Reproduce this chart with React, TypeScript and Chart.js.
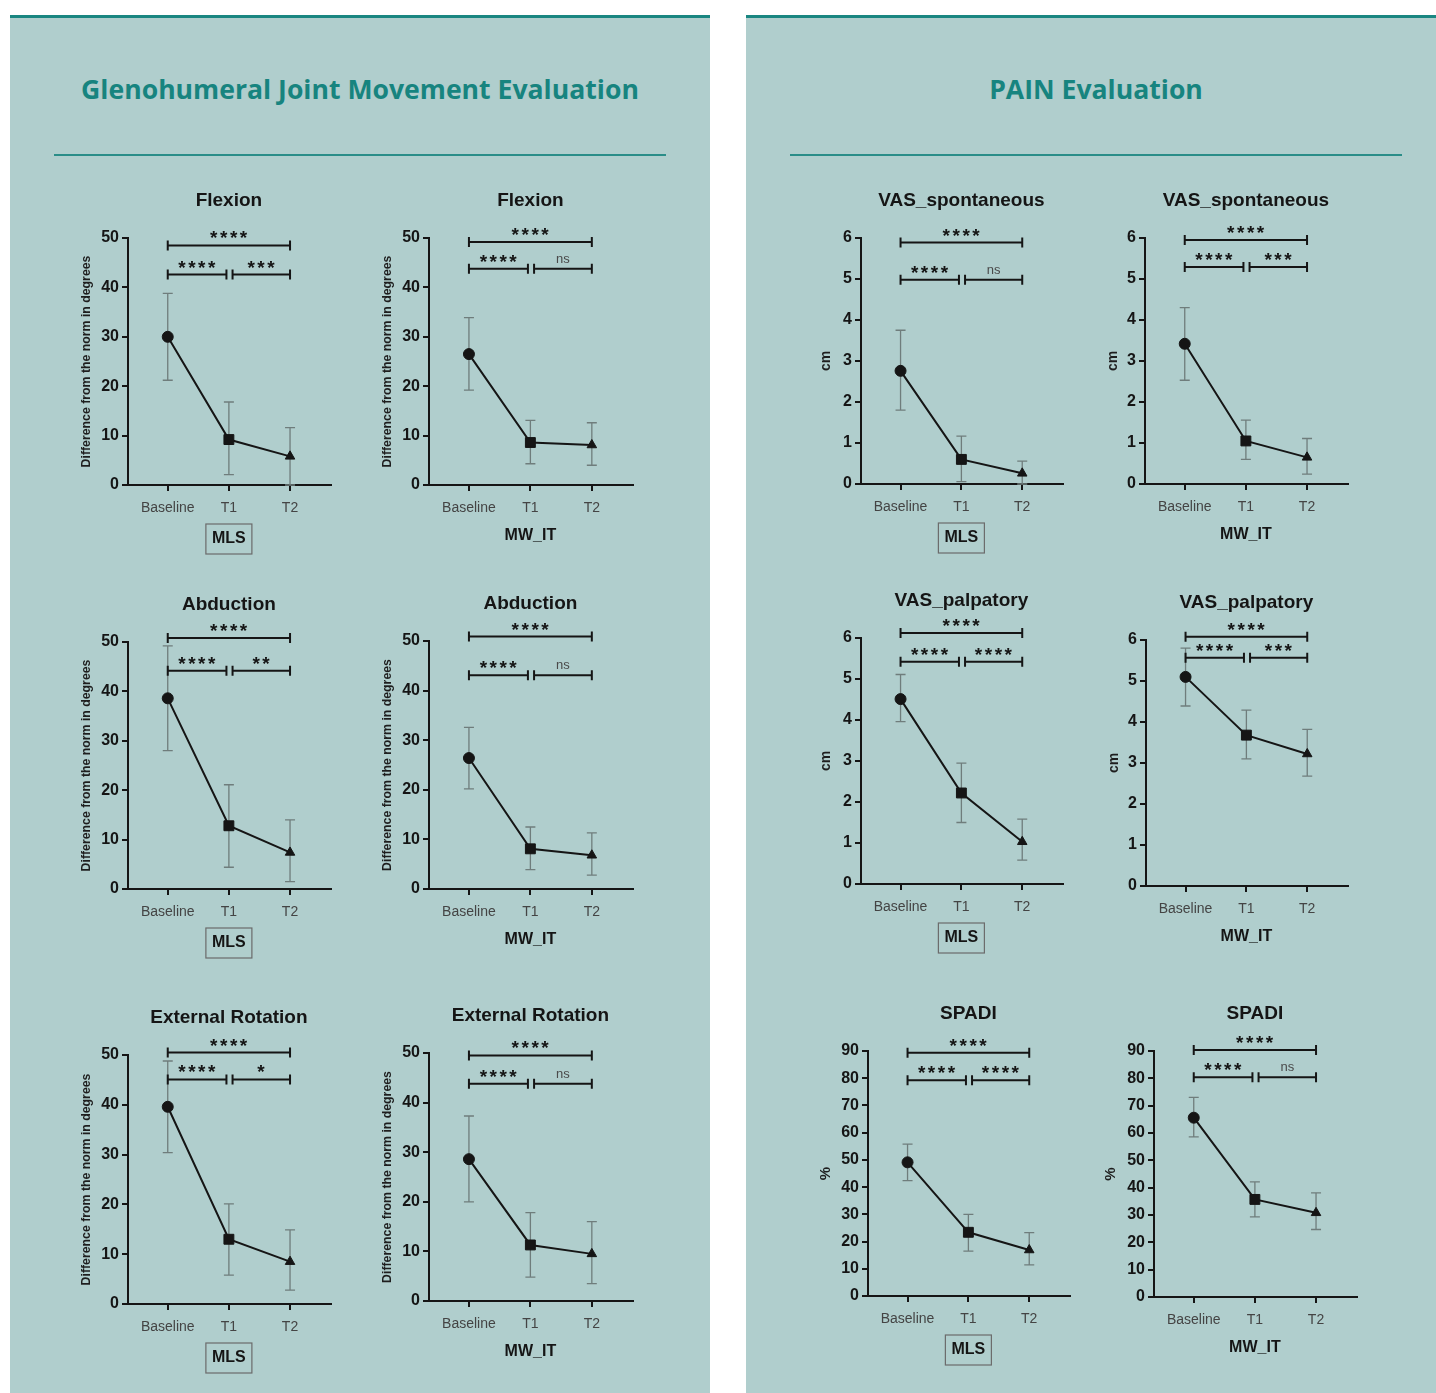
import React, { useEffect, useRef } from 'react';
import { Chart, registerables } from 'chart.js';
Chart.register(...registerables);

// ---------- DATA ----------
const categories = ['Baseline', 'T1', 'T2'];

// Glenohumeral (degrees)
const mlsFlexionMean = [30.0, 9.2, 5.8];
const mlsFlexionLow = [21.2, 2.1, 0];
const mlsFlexionHigh = [38.8, 16.8, 11.6];
const mlsFlexionSig = ['****', '****', '***'];
const mlsFlexionLevels = [48.5, 42.6];

const mwFlexionMean = [26.5, 8.6, 8.1];
const mwFlexionLow = [19.2, 4.3, 4.0];
const mwFlexionHigh = [33.9, 13.1, 12.6];
const mwFlexionSig = ['****', '****', 'ns'];
const mwFlexionLevels = [49.2, 43.8];

const mlsAbductionMean = [38.6, 12.8, 7.4];
const mlsAbductionLow = [28.0, 4.4, 1.5];
const mlsAbductionHigh = [49.2, 21.1, 14.0];
const mlsAbductionSig = ['****', '****', '**'];
const mlsAbductionLevels = [50.8, 44.2];

const mwAbductionMean = [26.4, 8.1, 6.8];
const mwAbductionLow = [20.2, 3.9, 2.8];
const mwAbductionHigh = [32.6, 12.5, 11.3];
const mwAbductionSig = ['****', '****', 'ns'];
const mwAbductionLevels = [50.9, 43.1];

const mlsRotationMean = [39.6, 13.0, 8.5];
const mlsRotationLow = [30.4, 5.8, 2.8];
const mlsRotationHigh = [48.8, 20.1, 14.9];
const mlsRotationSig = ['****', '****', '*'];
const mlsRotationLevels = [50.5, 45.1];

const mwRotationMean = [28.6, 11.3, 9.5];
const mwRotationLow = [20.0, 4.8, 3.5];
const mwRotationHigh = [37.3, 17.8, 16.0];
const mwRotationSig = ['****', '****', 'ns'];
const mwRotationLevels = [49.5, 43.8];

// Pain (cm / %)
const mlsVasSpMean = [2.76, 0.6, 0.26];
const mlsVasSpLow = [1.8, 0.06, 0];
const mlsVasSpHigh = [3.75, 1.17, 0.56];
const mlsVasSpSig = ['****', '****', 'ns'];
const mlsVasSpLevels = [5.89, 4.98];

const mwVasSpMean = [3.42, 1.05, 0.65];
const mwVasSpLow = [2.53, 0.6, 0.24];
const mwVasSpHigh = [4.3, 1.56, 1.11];
const mwVasSpSig = ['****', '****', '***'];
const mwVasSpLevels = [5.95, 5.29];

const mlsVasPalpMean = [4.51, 2.22, 1.03];
const mlsVasPalpLow = [3.96, 1.5, 0.58];
const mlsVasPalpHigh = [5.11, 2.95, 1.58];
const mlsVasPalpSig = ['****', '****', '****'];
const mlsVasPalpLevels = [6.12, 5.42];

const mwVasPalpMean = [5.1, 3.68, 3.22];
const mwVasPalpLow = [4.39, 3.1, 2.68];
const mwVasPalpHigh = [5.8, 4.29, 3.82];
const mwVasPalpSig = ['****', '****', '***'];
const mwVasPalpLevels = [6.08, 5.57];

const mlsSpadiMean = [49.1, 23.4, 16.9];
const mlsSpadiLow = [42.4, 16.5, 11.4];
const mlsSpadiHigh = [55.8, 30.0, 23.3];
const mlsSpadiSig = ['****', '****', '****'];
const mlsSpadiLevels = [89.4, 79.3];

const mwSpadiMean = [65.6, 35.7, 30.8];
const mwSpadiLow = [58.6, 29.3, 24.7];
const mwSpadiHigh = [73.0, 42.1, 38.1];
const mwSpadiSig = ['****', '****', 'ns'];
const mwSpadiLevels = [90.4, 80.4];

const degTitle = 'Difference from the norm in degrees';

// ---------- LAYOUT ----------
type Spec = {
  title: string; group: string; boxed: boolean; yTitle: string; yTitleSize: number; yTitleOff: number;
  yMax: number; step: number;
  mean: number[]; low: number[]; high: number[]; sig: string[]; levels: number[];
  axisX: number; axisEnd: number; yTop: number; y0: number;
};

const specs: Spec[] = [
  { title: 'Flexion', group: 'MLS', boxed: true, yTitle: degTitle, yTitleSize: 12.3, yTitleOff: 41, yMax: 50, step: 10,
    mean: mlsFlexionMean, low: mlsFlexionLow, high: mlsFlexionHigh, sig: mlsFlexionSig, levels: mlsFlexionLevels,
    axisX: 128, axisEnd: 331, yTop: 237.5, y0: 485 },
  { title: 'Flexion', group: 'MW_IT', boxed: false, yTitle: degTitle, yTitleSize: 12.3, yTitleOff: 41, yMax: 50, step: 10,
    mean: mwFlexionMean, low: mwFlexionLow, high: mwFlexionHigh, sig: mwFlexionSig, levels: mwFlexionLevels,
    axisX: 429, axisEnd: 633, yTop: 237.5, y0: 485 },
  { title: 'Abduction', group: 'MLS', boxed: true, yTitle: degTitle, yTitleSize: 12.3, yTitleOff: 41, yMax: 50, step: 10,
    mean: mlsAbductionMean, low: mlsAbductionLow, high: mlsAbductionHigh, sig: mlsAbductionSig, levels: mlsAbductionLevels,
    axisX: 128, axisEnd: 331, yTop: 641.5, y0: 889 },
  { title: 'Abduction', group: 'MW_IT', boxed: false, yTitle: degTitle, yTitleSize: 12.3, yTitleOff: 41, yMax: 50, step: 10,
    mean: mwAbductionMean, low: mwAbductionLow, high: mwAbductionHigh, sig: mwAbductionSig, levels: mwAbductionLevels,
    axisX: 429, axisEnd: 633, yTop: 641, y0: 889 },
  { title: 'External Rotation', group: 'MLS', boxed: true, yTitle: degTitle, yTitleSize: 12.3, yTitleOff: 41, yMax: 50, step: 10,
    mean: mlsRotationMean, low: mlsRotationLow, high: mlsRotationHigh, sig: mlsRotationSig, levels: mlsRotationLevels,
    axisX: 128, axisEnd: 331, yTop: 1055, y0: 1304 },
  { title: 'External Rotation', group: 'MW_IT', boxed: false, yTitle: degTitle, yTitleSize: 12.3, yTitleOff: 41, yMax: 50, step: 10,
    mean: mwRotationMean, low: mwRotationLow, high: mwRotationHigh, sig: mwRotationSig, levels: mwRotationLevels,
    axisX: 429, axisEnd: 633, yTop: 1053, y0: 1301 },
  { title: 'VAS_spontaneous', group: 'MLS', boxed: true, yTitle: 'cm', yTitleSize: 14, yTitleOff: 35, yMax: 6, step: 1,
    mean: mlsVasSpMean, low: mlsVasSpLow, high: mlsVasSpHigh, sig: mlsVasSpSig, levels: mlsVasSpLevels,
    axisX: 861, axisEnd: 1063, yTop: 237.5, y0: 484 },
  { title: 'VAS_spontaneous', group: 'MW_IT', boxed: false, yTitle: 'cm', yTitleSize: 14, yTitleOff: 32, yMax: 6, step: 1,
    mean: mwVasSpMean, low: mwVasSpLow, high: mwVasSpHigh, sig: mwVasSpSig, levels: mwVasSpLevels,
    axisX: 1145, axisEnd: 1348, yTop: 237.5, y0: 484 },
  { title: 'VAS_palpatory', group: 'MLS', boxed: true, yTitle: 'cm', yTitleSize: 14, yTitleOff: 35, yMax: 6, step: 1,
    mean: mlsVasPalpMean, low: mlsVasPalpLow, high: mlsVasPalpHigh, sig: mlsVasPalpSig, levels: mlsVasPalpLevels,
    axisX: 861, axisEnd: 1063, yTop: 638, y0: 884 },
  { title: 'VAS_palpatory', group: 'MW_IT', boxed: false, yTitle: 'cm', yTitleSize: 14, yTitleOff: 32, yMax: 6, step: 1,
    mean: mwVasPalpMean, low: mwVasPalpLow, high: mwVasPalpHigh, sig: mwVasPalpSig, levels: mwVasPalpLevels,
    axisX: 1146, axisEnd: 1348, yTop: 640, y0: 886 },
  { title: 'SPADI', group: 'MLS', boxed: true, yTitle: '%', yTitleSize: 15, yTitleOff: 42, yMax: 90, step: 10,
    mean: mlsSpadiMean, low: mlsSpadiLow, high: mlsSpadiHigh, sig: mlsSpadiSig, levels: mlsSpadiLevels,
    axisX: 868, axisEnd: 1070, yTop: 1051, y0: 1296 },
  { title: 'SPADI', group: 'MW_IT', boxed: false, yTitle: '%', yTitleSize: 15, yTitleOff: 43, yMax: 90, step: 10,
    mean: mwSpadiMean, low: mwSpadiLow, high: mwSpadiHigh, sig: mwSpadiSig, levels: mwSpadiLevels,
    axisX: 1154, axisEnd: 1357, yTop: 1051, y0: 1297 },
];

const FONT = '"Liberation Sans", Arial, Helvetica, sans-serif';
const INK = '#151515';
const PADL = 75, PADT = 62, PADR = 25, PADB = 78;

function makeOverlay(s: Spec) {
  return {
    id: 'overlay',
    beforeDatasetsDraw(chart: any) {
      const { ctx } = chart;
      const xs = chart.scales.x, ys = chart.scales.y;
      ctx.save();
      ctx.strokeStyle = '#6f7d7c';
      ctx.lineWidth = 1.3;
      s.mean.forEach((_, i) => {
        const x = xs.getPixelForValue(i);
        const y1 = ys.getPixelForValue(s.low[i]);
        const y2 = ys.getPixelForValue(s.high[i]);
        ctx.beginPath();
        ctx.moveTo(x, y1); ctx.lineTo(x, y2);
        ctx.moveTo(x - 5, y1); ctx.lineTo(x + 5, y1);
        ctx.moveTo(x - 5, y2); ctx.lineTo(x + 5, y2);
        ctx.stroke();
      });
      ctx.restore();
    },
    afterDatasetsDraw(chart: any) {
      const { ctx } = chart;
      const xs = chart.scales.x, ys = chart.scales.y;
      const brackets: [number, number, number, string][] = [
        [0, 2, s.levels[0], s.sig[0]],
        [0, 0.96, s.levels[1], s.sig[1]],
        [1.06, 2, s.levels[1], s.sig[2]],
      ];
      ctx.save();
      ctx.strokeStyle = INK;
      ctx.lineWidth = 2;
      brackets.forEach(([a, b, lv, label]) => {
        const x1 = xs.getPixelForValue(a), x2 = xs.getPixelForValue(b);
        const y = ys.getPixelForValue(lv);
        ctx.beginPath();
        ctx.moveTo(x1, y); ctx.lineTo(x2, y);
        ctx.moveTo(x1, y - 5); ctx.lineTo(x1, y + 5);
        ctx.moveTo(x2, y - 5); ctx.lineTo(x2, y + 5);
        ctx.stroke();
        ctx.textAlign = 'center';
        ctx.textBaseline = 'alphabetic';
        if (label === 'ns') {
          ctx.font = `13px ${FONT}`;
          ctx.fillStyle = '#4a4a4a';
          (ctx as any).letterSpacing = '0px';
          ctx.fillText(label, (x1 + x2) / 2, y - 6);
        } else {
          ctx.font = `bold 19px ${FONT}`;
          ctx.fillStyle = INK;
          (ctx as any).letterSpacing = '2.5px';
          ctx.fillText(label, (x1 + x2) / 2 + 1, y - 1);
          (ctx as any).letterSpacing = '0px';
        }
      });
      ctx.restore();
    },
    afterDraw(chart: any) {
      const { ctx, chartArea } = chart;
      const xs = chart.scales.x;
      const cx = xs.getPixelForValue(1);
      ctx.save();
      ctx.fillStyle = INK;
      ctx.textAlign = 'center';
      ctx.textBaseline = 'middle';
      ctx.font = `bold 19px ${FONT}`;
      ctx.fillText(s.title, cx, chartArea.top - 37);
      ctx.font = `bold 16px ${FONT}`;
      const gy = chartArea.bottom + (s.boxed ? 54 : 51);
      ctx.fillText(s.group, cx, gy);
      if (s.boxed) {
        ctx.strokeStyle = '#6b6b6b';
        ctx.lineWidth = 1.2;
        ctx.strokeRect(cx - 23, gy - 15, 46, 30);
      }
      ctx.translate(chartArea.left - s.yTitleOff, (chartArea.top + chartArea.bottom) / 2);
      ctx.rotate(-Math.PI / 2);
      ctx.font = `bold ${s.yTitleSize}px ${FONT}`;
      ctx.fillStyle = '#1e1e1e';
      ctx.fillText(s.yTitle, 0, 0);
      ctx.restore();
    },
  };
}

function SubChart({ s }: { s: Spec }) {
  const ref = useRef<HTMLCanvasElement>(null);
  const w = s.axisEnd - s.axisX + PADL + PADR;
  const h = s.y0 - s.yTop + PADT + PADB;
  useEffect(() => {
    const axisGrid = { drawOnChartArea: false, drawTicks: true, tickLength: 6, color: INK, lineWidth: 2 };
    const axisBorder = { display: true, color: INK, width: 2 };
    const chart = new Chart(ref.current as HTMLCanvasElement, {
      type: 'line',
      data: {
        datasets: [{
          data: s.mean.map((y, i) => ({ x: i, y })),
          borderColor: INK,
          backgroundColor: INK,
          borderWidth: 2,
          pointStyle: ['circle', 'rect', 'triangle'] as any,
          pointRadius: [5.5, 7, 5.5],
          pointBorderWidth: 1,
          tension: 0,
        }],
      },
      options: {
        responsive: false,
        animation: false,
        devicePixelRatio: 1,
        layout: { padding: { top: PADT, right: PADR, left: 0, bottom: 0 } },
        plugins: { legend: { display: false }, tooltip: { enabled: false }, title: { display: false } },
        scales: {
          x: {
            type: 'linear', min: -0.65, max: 2.67,
            afterBuildTicks: (sc: any) => { sc.ticks = [0, 1, 2].map((v) => ({ value: v })); },
            afterFit: (sc: any) => { sc.height = PADB; },
            ticks: {
              callback: (v: any) => categories[v as number] ?? '',
              font: { family: FONT, size: 14 }, color: '#444', padding: 9, maxRotation: 0, autoSkip: false,
            },
            grid: axisGrid, border: axisBorder,
          } as any,
          y: {
            min: 0, max: s.yMax,
            afterFit: (sc: any) => { sc.width = PADL; },
            ticks: { stepSize: s.step, font: { family: FONT, size: 16, weight: 'bold' }, color: INK, padding: 3 },
            grid: axisGrid, border: axisBorder,
          } as any,
        },
      },
      plugins: [makeOverlay(s)],
    });
    return () => chart.destroy();
  }, []);
  return (
    <canvas
      ref={ref}
      width={w}
      height={h}
      style={{ position: 'absolute', left: s.axisX - PADL, top: s.yTop - PADT, width: w, height: h }}
    />
  );
}

const PANEL_BG = '#b0cecd';
const TEAL = '#1a8681';

export default function App() {
  const titleStyle: React.CSSProperties = {
    position: 'absolute', top: 72, height: 34, lineHeight: '34px', textAlign: 'center',
    fontFamily: '"Open Sans", "Noto Sans", sans-serif', fontWeight: 700, fontSize: 26.6, color: '#17847f',
  };
  return (
    <div style={{ position: 'absolute', left: 0, top: 0, width: 1436, height: 1393, overflow: 'hidden', background: '#fff' }}>
      <div style={{ position: 'absolute', left: 10, top: 15, width: 700, height: 1378, background: PANEL_BG, borderTop: `3px solid ${TEAL}` }} />
      <div style={{ position: 'absolute', left: 746, top: 15, width: 690, height: 1378, background: PANEL_BG, borderTop: `3px solid ${TEAL}` }} />
      <div style={{ ...titleStyle, left: 10, width: 700 }}>Glenohumeral Joint Movement Evaluation</div>
      <div style={{ ...titleStyle, left: 746, width: 700 }}>PAIN Evaluation</div>
      <div style={{ position: 'absolute', left: 54, top: 154, width: 612, height: 2, background: '#2a8d88' }} />
      <div style={{ position: 'absolute', left: 790, top: 154, width: 612, height: 2, background: '#2a8d88' }} />
      {specs.map((s, i) => <SubChart key={i} s={s} />)}
    </div>
  );
}
